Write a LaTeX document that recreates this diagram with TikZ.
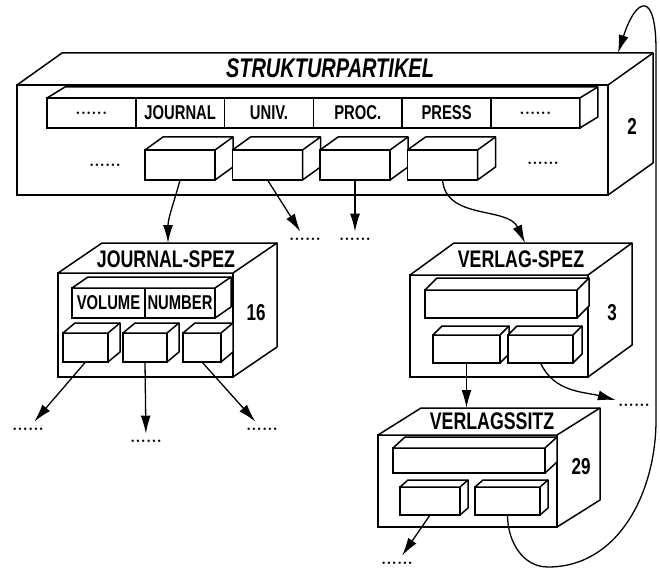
\documentclass[tikz,border=0pt]{standalone}
\usepackage{fontspec}
\newfontfamily\schrift[FakeStretch=0.74]{Liberation Sans}
\usetikzlibrary{arrows.meta, calc, positioning}
\tikzstyle{front} = [rectangle, draw=black, fill=white, line width=1.5pt, inner sep=0pt, outer sep=0pt]
\tikzstyle{zelle} = [front, minimum height=30pt, font=\schrift\bfseries\fontsize{20}{20}\selectfont]
\tikzstyle{wuerfel} = [front, minimum height=29pt]
\tikzstyle{haupttitel} = [font=\schrift\bfseries\itshape\fontsize{27}{27}\selectfont]
\tikzstyle{titel} = [font=\schrift\bfseries\fontsize{24}{24}\selectfont]
\tikzstyle{zahl} = [font=\schrift\bfseries\fontsize{23}{23}\selectfont]
\tikzstyle{punkte} = [font=\bfseries\fontsize{17}{17}\selectfont, inner xsep=2pt, inner ysep=6pt]
\tikzstyle{pfeil} = [line width=1.3pt, -{Latex[length=18pt,width=10pt]}]
\newcommand{\luecke}{{\normalfont\fontsize{17}{17}\selectfont\bfseries......}}
\newcommand{\tiefe}[4]{%
  \filldraw[fill=white, line width=1.5pt, line join=round] (#1.north west) -- ++(#3,#4) -- ($(#2.north east)+(#3,#4)$) -- ($(#2.south east)+(#3,#4)$) -- (#2.south east) -- (#2.north east) -- cycle;
  \draw[line width=1.5pt] (#2.north east) -- ++(#3,#4);}

\begin{document}
\begin{tikzpicture}[x=1pt, y=-1pt]
\useasboundingbox (0,0) rectangle (660,569);

% Strukturpartikel
\node (strukt) [front, minimum width=591pt, minimum height=110pt] at (312.5,140) {};
\tiefe{strukt}{strukt}{45}{-32}
\node (strukttitel) [haupttitel] at (330,68) {STRUKTURPARTIKEL};
\node (zahl2) [zahl] at (632,126) {2};
\node (z0) [zelle, minimum width=88.8pt] at (91.4,113) {\luecke};
\node (journal) [zelle, minimum width=88.8pt, right=0pt of z0] {JOURNAL};
\node (univ) [zelle, minimum width=88.8pt, right=0pt of journal] {UNIV.};
\node (proc) [zelle, minimum width=88.8pt, right=0pt of univ] {PROC.};
\node (press) [zelle, minimum width=88.8pt, right=0pt of proc] {PRESS};
\node (z5) [zelle, minimum width=88.8pt, right=0pt of press] {\luecke};
\tiefe{z0}{z5}{18}{-11}
\foreach \i in {1,...,4} {
  \node (k\i) [wuerfel, minimum width=70pt, minimum height=30pt] at ({180+(\i-1)*87.5},165) {};
  \tiefe{k\i}{k\i}{18}{-13}
}
\node (links) [punkte] at (105,165) {......};
\node (rechts) [punkte] at (543,163) {......};
\node (d2) [punkte] at (305,239) {......};
\node (d3) [punkte] at (355,239) {......};
\coordinate (strukt-top) at (618,53);

% Journal-Spez
\node (jspez) [front, minimum width=175pt, minimum height=104pt] at (145.5,325) {};
\tiefe{jspez}{jspez}{44}{-30}
\node (jtitel) [titel] at (166,259) {JOURNAL-SPEZ};
\node (zahl16) [zahl] at (256,313) {16};
\node (volume) [zelle, minimum width=73pt] at (108.5,303) {VOLUME};
\node (number) [zelle, minimum width=70pt, right=0pt of volume] {NUMBER};
\tiefe{volume}{number}{16}{-11}
\node (ja) [wuerfel, minimum width=45pt] at (85.5,347.5) {};
\tiefe{ja}{ja}{12}{-10}
\node (jb) [wuerfel, minimum width=44pt] at (145,347.5) {};
\tiefe{jb}{jb}{12}{-10}
\node (jc) [wuerfel, minimum width=38pt] at (202,347.5) {};
\tiefe{jc}{jc}{12}{-10}
\node (jd1) [punkte] at (28,429) {......};
\node (jd2) [punkte] at (146,441) {......};
\node (jd3) [punkte] at (262,429) {......};
\coordinate (jspez-top) at (168,243);

% Verlag-Spez
\node (vspez) [front, minimum width=178pt, minimum height=102pt] at (499,326) {};
\tiefe{vspez}{vspez}{44}{-32}
\node (vtitel) [titel] at (521,259) {VERLAG-SPEZ};
\node (zahl3) [zahl] at (612,313) {3};
\node (vleiste) [front, minimum width=152pt, minimum height=28pt] at (501,304) {};
\tiefe{vleiste}{vleiste}{12}{-12}
\node (va) [wuerfel, minimum width=67pt, minimum height=28pt] at (466.5,349) {};
\tiefe{va}{va}{9}{-9}
\node (vb) [wuerfel, minimum width=65pt, minimum height=28pt] at (540.5,349) {};
\tiefe{vb}{vb}{9}{-9}
\node (vd) [punkte] at (634,405) {......};
\coordinate (vspez-top) at (525,243);

% Verlagssitz
\node (vsitz) [front, minimum width=179pt, minimum height=92pt] at (467.5,481) {};
\tiefe{vsitz}{vsitz}{43}{-27}
\node (stitel) [titel] at (492,421) {VERLAGSSITZ};
\node (zahl29) [zahl] at (581,467) {29};
\node (sleiste) [front, minimum width=152pt, minimum height=25pt] at (469,460.5) {};
\tiefe{sleiste}{sleiste}{12}{-11}
\node (sa) [wuerfel, minimum width=60pt, minimum height=28pt] at (430,501) {};
\tiefe{sa}{sa}{8}{-7}
\node (sb) [wuerfel, minimum width=65pt, minimum height=28pt] at (507.5,501) {};
\tiefe{sb}{sb}{8}{-7}
\node (sd) [punkte] at (397,563) {......};
\coordinate (vsitz-top) at (466.5,408);
\coordinate (schleife-unten) at (548,567);
\coordinate (schleife-rechts) at (656,420);
\coordinate (schleife-oben) at (656,50);

\draw [pfeil] (k1.south) to[out=-105,in=90] (jspez-top);
\draw [pfeil] (k2.south) -- (d2);
\draw [pfeil] (k3.south) -- (d3);
\draw [pfeil] (k4.south) to[out=-85,in=115] (vspez-top);
\draw [pfeil] (ja.south) -- (jd1);
\draw [pfeil] (jb.south) -- (jd2);
\draw [pfeil] (jc.south) -- (jd3);
\draw [pfeil] (va.south) -- (vsitz-top);
\draw [pfeil] (vb.south) to[out=-65,in=165] (vd);
\draw [pfeil] (sa.south) -- (sd);
\draw [pfeil] (sb.south) to[out=-90,in=180] (schleife-unten) to[out=0,in=-90] (schleife-rechts) -- (schleife-oben) to[out=90,in=72,looseness=4] (strukt-top);

\end{tikzpicture}
\end{document}
